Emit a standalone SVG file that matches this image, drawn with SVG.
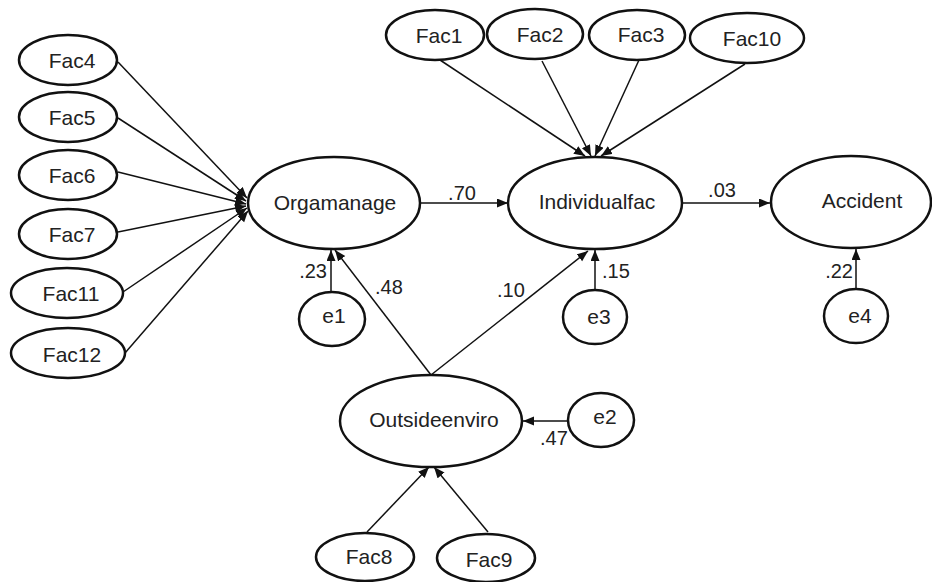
<svg xmlns="http://www.w3.org/2000/svg" width="932" height="582" viewBox="0 0 932 582">
<style>
ellipse{fill:#fff;stroke:#111;stroke-width:2.5}
.n{font-family:"Liberation Sans",Arial,sans-serif;font-size:21px;fill:#222;text-anchor:middle}
.l{font-family:"Liberation Sans",Arial,sans-serif;font-size:20px;fill:#222}
#conn line{stroke:#111;stroke-width:1.5;marker-end:url(#ah)}
</style>
<defs>
<marker id="ah" markerUnits="userSpaceOnUse" markerWidth="12" markerHeight="10" refX="11" refY="4.5" orient="auto">
<path d="M0,0 L11,4.5 L0,9 z" fill="#111"/>
</marker>
</defs>
<rect width="932" height="582" fill="#fff"/>
<g id="conn">
<line x1="118" y1="62" x2="247" y2="198"/>
<line x1="118" y1="118" x2="246" y2="201"/>
<line x1="118" y1="172" x2="246" y2="204"/>
<line x1="118" y1="232" x2="246" y2="206"/>
<line x1="123" y1="292" x2="247" y2="208"/>
<line x1="125" y1="353" x2="248" y2="211"/>
<line x1="440" y1="60" x2="585" y2="156"/>
<line x1="542" y1="61" x2="591" y2="156"/>
<line x1="639" y1="60" x2="595" y2="156"/>
<line x1="745" y1="64" x2="601" y2="156"/>
<line x1="420" y1="203" x2="508" y2="203"/>
<line x1="682" y1="203" x2="770" y2="203"/>
<line x1="331" y1="292" x2="331" y2="250"/>
<line x1="595" y1="290" x2="595" y2="250"/>
<line x1="856" y1="290" x2="856" y2="249"/>
<line x1="431" y1="375" x2="335" y2="250"/>
<line x1="431" y1="375" x2="588" y2="251"/>
<line x1="569" y1="421" x2="523" y2="421"/>
<line x1="367" y1="532" x2="429" y2="467"/>
<line x1="488" y1="532" x2="434" y2="467"/>
</g>
<g id="Fac4"><ellipse cx="68" cy="60" rx="49" ry="25"/><text class="n" x="72" y="68">Fac4</text></g>
<g id="Fac5"><ellipse cx="68" cy="117" rx="49" ry="25"/><text class="n" x="72" y="125">Fac5</text></g>
<g id="Fac6"><ellipse cx="68" cy="175" rx="49" ry="25"/><text class="n" x="72" y="183">Fac6</text></g>
<g id="Fac7"><ellipse cx="68" cy="234" rx="49" ry="25"/><text class="n" x="72" y="242">Fac7</text></g>
<g id="Fac11"><ellipse cx="67" cy="293" rx="56" ry="25"/><text class="n" x="71" y="301">Fac11</text></g>
<g id="Fac12"><ellipse cx="68" cy="353" rx="57" ry="25"/><text class="n" x="72" y="362">Fac12</text></g>
<g id="Fac1"><ellipse cx="435" cy="35" rx="49" ry="25"/><text class="n" x="439" y="43">Fac1</text></g>
<g id="Fac2"><ellipse cx="535" cy="34" rx="48" ry="25"/><text class="n" x="540" y="42">Fac2</text></g>
<g id="Fac3"><ellipse cx="637" cy="35" rx="48" ry="25"/><text class="n" x="641" y="42">Fac3</text></g>
<g id="Fac10"><ellipse cx="747" cy="38" rx="57" ry="25"/><text class="n" x="752" y="46">Fac10</text></g>
<g id="Orgamanage"><ellipse cx="334" cy="203" rx="86" ry="46"/><text class="n" x="335" y="210">Orgamanage</text></g>
<g id="Individualfac"><ellipse cx="595" cy="203" rx="87" ry="46"/><text class="n" x="597" y="209">Individualfac</text></g>
<g id="Accident"><ellipse cx="851" cy="202" rx="80" ry="46"/><text class="n" x="862" y="208">Accident</text></g>
<g id="e1"><ellipse cx="332" cy="319" rx="33" ry="27"/><text class="n" x="334" y="323">e1</text></g>
<g id="e3"><ellipse cx="595" cy="317" rx="32" ry="27"/><text class="n" x="599" y="324">e3</text></g>
<g id="e4"><ellipse cx="856" cy="316" rx="32" ry="27"/><text class="n" x="860" y="323">e4</text></g>
<g id="Outsideenviro"><ellipse cx="431" cy="421" rx="91" ry="46"/><text class="n" x="434" y="427">Outsideenviro</text></g>
<g id="e2"><ellipse cx="601" cy="420" rx="33" ry="27"/><text class="n" x="605" y="424">e2</text></g>
<g id="Fac8"><ellipse cx="365" cy="557" rx="49" ry="24"/><text class="n" x="369" y="564">Fac8</text></g>
<g id="Fac9"><ellipse cx="486" cy="558" rx="49" ry="24"/><text class="n" x="489" y="567">Fac9</text></g>
<g id="labels">
<text class="l" x="462" y="200" text-anchor="middle">.70</text>
<text class="l" x="722" y="197" text-anchor="middle">.03</text>
<text class="l" x="327" y="278" text-anchor="end">.23</text>
<text class="l" x="853" y="278" text-anchor="end">.22</text>
<text class="l" x="602" y="278">.15</text>
<text class="l" x="375" y="294">.48</text>
<text class="l" x="497" y="297">.10</text>
<text class="l" x="540" y="445">.47</text>
</g>
</svg>
